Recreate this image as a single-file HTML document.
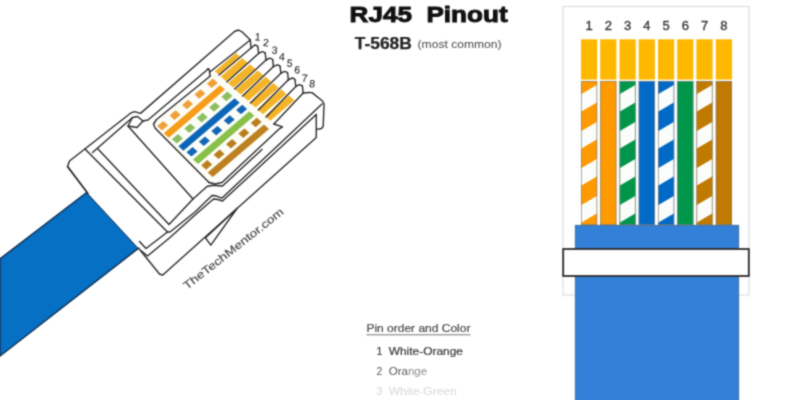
<!DOCTYPE html><html><head><meta charset="utf-8"><style>html,body{margin:0;padding:0;background:#fff;}svg{display:block;}#wrap{width:789px;height:400px;overflow:hidden;font-family:"Liberation Sans",sans-serif;}</style></head><body>
<div id="wrap">
<svg width="789" height="400" viewBox="0 0 789 400">
<defs><filter id="bl" color-interpolation-filters="sRGB" filterUnits="userSpaceOnUse" x="0" y="0" width="789" height="400"><feConvolveMatrix order="3" kernelMatrix="1 2 1 2 8 2 1 2 1" divisor="20" edgeMode="duplicate"/></filter></defs>
<rect width="789" height="400" fill="#fff"/>
<g filter="url(#bl)">
<polygon points="0,258.8 86.7,192.4 138.6,248.2 0,356" fill="#0670c4" stroke="#13355a" stroke-width="1.5"/>
<polygon points="87.0,192.4 67.0,165.0 131.0,113.0 140.0,113.4 236.0,30.0 250.3,40.0 304.0,96.0 309.0,92.5 322.5,101.5 324.0,104.0 323.0,128.0 316.5,137.5 162.0,275.0 138.4,248.0" fill="#fff"/>
<polygon points="150.7,125.6 213.8,71.7 276.0,124.5 208.3,185.0" fill="#fdfdf8"/>
<polygon points="214.7,71.2 236.0,53.0 239.8,56.4 218.6,74.6" fill="#f4b428"/>
<polygon points="220.6,76.5 242.3,57.9 247.6,62.7 226.0,81.2" fill="#f4b428"/>
<polygon points="228.0,83.1 250.1,64.2 255.4,69.0 233.4,87.8" fill="#f4b428"/>
<polygon points="235.4,89.7 257.8,70.5 263.2,75.2 240.8,94.4" fill="#f4b428"/>
<polygon points="242.8,96.3 265.6,76.8 271.0,81.5 248.2,101.0" fill="#f4b428"/>
<polygon points="250.2,102.9 273.4,83.0 278.7,87.8 255.6,107.6" fill="#f4b428"/>
<polygon points="257.6,109.5 281.2,89.3 286.5,94.1 263.0,114.2" fill="#f4b428"/>
<polygon points="265.0,116.1 289.0,95.6 294.3,100.3 270.4,120.8" fill="#f4b428"/>
<polygon points="157.2,126.1 163.3,120.9 168.2,125.3 162.1,130.5" fill="#f0a038"/>
<polygon points="169.6,115.5 175.7,110.3 180.6,114.7 174.5,119.9" fill="#f0a038"/>
<polygon points="182.0,105.0 188.1,99.8 193.0,104.1 186.9,109.3" fill="#f0a038"/>
<polygon points="194.4,94.4 200.5,89.2 205.4,93.5 199.3,98.7" fill="#f0a038"/>
<polygon points="206.8,83.8 212.9,78.6 217.8,82.9 211.7,88.1" fill="#f0a038"/>
<polygon points="163.7,133.3 220.0,85.2 225.0,89.6 168.8,137.7" fill="#f59c1a"/>
<polygon points="171.9,139.2 178.0,134.0 182.9,138.4 176.8,143.6" fill="#8cbf60"/>
<polygon points="184.3,128.6 190.4,123.4 195.2,127.8 189.2,133.0" fill="#8cbf60"/>
<polygon points="196.7,118.0 202.7,112.8 207.6,117.2 201.6,122.4" fill="#8cbf60"/>
<polygon points="209.1,107.4 215.1,102.2 220.0,106.6 213.9,111.8" fill="#8cbf60"/>
<polygon points="221.4,96.8 227.5,91.6 232.4,96.0 226.3,101.2" fill="#8cbf60"/>
<polygon points="178.4,146.3 234.6,98.2 239.7,102.7 183.4,150.8" fill="#0c66b8"/>
<polygon points="186.5,152.3 192.6,147.1 197.5,151.4 191.4,156.6" fill="#1266b8"/>
<polygon points="198.9,141.7 205.0,136.5 209.9,140.8 203.8,146.0" fill="#1266b8"/>
<polygon points="211.3,131.1 217.4,125.9 222.3,130.2 216.2,135.4" fill="#1266b8"/>
<polygon points="223.7,120.5 229.8,115.3 234.7,119.6 228.6,124.8" fill="#1266b8"/>
<polygon points="236.1,109.9 242.2,104.7 247.1,109.1 241.0,114.3" fill="#1266b8"/>
<polygon points="193.0,159.4 249.3,111.3 254.3,115.8 198.1,163.9" fill="#88c04a"/>
<polygon points="201.2,165.3 207.3,160.1 212.2,164.5 206.1,169.7" fill="#ba7e1c"/>
<polygon points="213.6,154.8 219.7,149.6 224.5,153.9 218.5,159.1" fill="#ba7e1c"/>
<polygon points="226.0,144.2 232.1,139.0 236.9,143.3 230.9,148.5" fill="#ba7e1c"/>
<polygon points="238.4,133.6 244.4,128.4 249.3,132.7 243.2,137.9" fill="#ba7e1c"/>
<polygon points="250.7,123.0 256.8,117.8 261.7,122.1 255.6,127.3" fill="#ba7e1c"/>
<polygon points="207.7,172.5 263.9,124.4 269.0,128.9 212.7,177.0" fill="#bc801e"/>
<polyline points="87.0,192.4 67.5,166.5 69.5,161.0 130.5,113.2 134.5,111.6 140.5,113.4 234.5,31.5 238.5,30.0 242.0,31.8 250.3,40.0" fill="none" stroke="#2b2b2b" stroke-width="1.4" stroke-linejoin="round" stroke-linecap="round"/>
<polyline points="250.3,40.0 251.1,48.0" fill="none" stroke="#2b2b2b" stroke-width="1.4" stroke-linejoin="round" stroke-linecap="round" stroke-width="1.9" stroke="#222"/>
<polyline points="251.1,48.0 254.8,45.0 256.9,45.7 257.8,46.6" fill="none" stroke="#2b2b2b" stroke-width="1.4" stroke-linejoin="round" stroke-linecap="round" stroke-width="1.9" stroke="#222"/>
<polyline points="257.8,46.6 258.6,53.4" fill="none" stroke="#2b2b2b" stroke-width="1.4" stroke-linejoin="round" stroke-linecap="round" stroke-width="1.9" stroke="#222"/>
<polyline points="258.6,53.4 262.2,51.6 264.4,52.3 265.2,53.2" fill="none" stroke="#2b2b2b" stroke-width="1.4" stroke-linejoin="round" stroke-linecap="round" stroke-width="1.9" stroke="#222"/>
<polyline points="265.2,53.2 266.0,60.0" fill="none" stroke="#2b2b2b" stroke-width="1.4" stroke-linejoin="round" stroke-linecap="round" stroke-width="1.9" stroke="#222"/>
<polyline points="266.0,60.0 269.7,58.2 271.9,58.9 272.7,59.8" fill="none" stroke="#2b2b2b" stroke-width="1.4" stroke-linejoin="round" stroke-linecap="round" stroke-width="1.9" stroke="#222"/>
<polyline points="272.7,59.8 273.5,66.6" fill="none" stroke="#2b2b2b" stroke-width="1.4" stroke-linejoin="round" stroke-linecap="round" stroke-width="1.9" stroke="#222"/>
<polyline points="273.5,66.6 277.1,64.8 279.3,65.5 280.1,66.4" fill="none" stroke="#2b2b2b" stroke-width="1.4" stroke-linejoin="round" stroke-linecap="round" stroke-width="1.9" stroke="#222"/>
<polyline points="280.1,66.4 280.9,73.2" fill="none" stroke="#2b2b2b" stroke-width="1.4" stroke-linejoin="round" stroke-linecap="round" stroke-width="1.9" stroke="#222"/>
<polyline points="280.9,73.2 284.6,71.4 286.8,72.1 287.6,73.0" fill="none" stroke="#2b2b2b" stroke-width="1.4" stroke-linejoin="round" stroke-linecap="round" stroke-width="1.9" stroke="#222"/>
<polyline points="287.6,73.0 288.4,79.8" fill="none" stroke="#2b2b2b" stroke-width="1.4" stroke-linejoin="round" stroke-linecap="round" stroke-width="1.9" stroke="#222"/>
<polyline points="288.4,79.8 292.0,78.0 294.2,78.7 295.0,79.6" fill="none" stroke="#2b2b2b" stroke-width="1.4" stroke-linejoin="round" stroke-linecap="round" stroke-width="1.9" stroke="#222"/>
<polyline points="295.0,79.6 295.8,86.4" fill="none" stroke="#2b2b2b" stroke-width="1.4" stroke-linejoin="round" stroke-linecap="round" stroke-width="1.9" stroke="#222"/>
<polyline points="295.8,86.4 299.4,84.6 301.6,85.3 302.4,86.2" fill="none" stroke="#2b2b2b" stroke-width="1.4" stroke-linejoin="round" stroke-linecap="round" stroke-width="1.9" stroke="#222"/>
<polyline points="302.4,86.2 303.2,93.0" fill="none" stroke="#2b2b2b" stroke-width="1.4" stroke-linejoin="round" stroke-linecap="round" stroke-width="1.9" stroke="#222"/>
<polyline points="219.0,75.0 251.1,48.0" fill="none" stroke="#2b2b2b" stroke-width="1.4" stroke-linejoin="round" stroke-linecap="round" stroke-width="2.1" stroke="#222"/>
<polyline points="226.8,82.0 258.6,53.4" fill="none" stroke="#2b2b2b" stroke-width="1.4" stroke-linejoin="round" stroke-linecap="round" stroke-width="2.1" stroke="#222"/>
<polyline points="234.7,89.0 266.0,60.0" fill="none" stroke="#2b2b2b" stroke-width="1.4" stroke-linejoin="round" stroke-linecap="round" stroke-width="2.1" stroke="#222"/>
<polyline points="242.5,96.0 273.5,66.6" fill="none" stroke="#2b2b2b" stroke-width="1.4" stroke-linejoin="round" stroke-linecap="round" stroke-width="2.1" stroke="#222"/>
<polyline points="250.4,103.0 280.9,73.2" fill="none" stroke="#2b2b2b" stroke-width="1.4" stroke-linejoin="round" stroke-linecap="round" stroke-width="2.1" stroke="#222"/>
<polyline points="258.2,110.0 288.4,79.8" fill="none" stroke="#2b2b2b" stroke-width="1.4" stroke-linejoin="round" stroke-linecap="round" stroke-width="2.1" stroke="#222"/>
<polyline points="266.1,117.0 295.8,86.4" fill="none" stroke="#2b2b2b" stroke-width="1.4" stroke-linejoin="round" stroke-linecap="round" stroke-width="2.1" stroke="#222"/>
<polyline points="273.9,124.0 303.2,93.0" fill="none" stroke="#2b2b2b" stroke-width="1.4" stroke-linejoin="round" stroke-linecap="round" stroke-width="2.1" stroke="#222"/>
<polyline points="250.3,40.0 209.8,72.0" fill="none" stroke="#2b2b2b" stroke-width="1.4" stroke-linejoin="round" stroke-linecap="round" stroke-width="1.6"/>
<polyline points="207.5,68.8 209.3,69.6 210.0,76.2" fill="none" stroke="#2b2b2b" stroke-width="1.4" stroke-linejoin="round" stroke-linecap="round" stroke-width="1.9"/>
<polyline points="303.2,93.0 309.2,92.5 312.0,92.6 322.5,101.0 324.0,104.0 323.2,126.5 321.5,128.5 316.5,129.4" fill="none" stroke="#2b2b2b" stroke-width="1.4" stroke-linejoin="round" stroke-linecap="round"/>
<polyline points="273.9,124.0 282.5,126.9 279.4,128.8 222.0,182.5 215.0,184.0 209.0,182.5" fill="none" stroke="#2b2b2b" stroke-width="1.4" stroke-linejoin="round" stroke-linecap="round" stroke-width="2.6" stroke="#262626"/>
<polyline points="210.0,76.2 156.5,119.5 153.5,124.0 155.0,128.0 209.0,182.5" fill="none" stroke="#2b2b2b" stroke-width="1.4" stroke-linejoin="round" stroke-linecap="round" stroke-width="1.7"/>
<polyline points="208.5,68.8 148.0,120.0 143.0,121.0 137.5,116.5 132.5,117.5 92.5,152.5" fill="none" stroke="#2b2b2b" stroke-width="1.4" stroke-linejoin="round" stroke-linecap="round"/>
<polyline points="132.5,117.5 128.0,126.0 137.0,127.5 143.0,121.0" fill="none" stroke="#2b2b2b" stroke-width="1.4" stroke-linejoin="round" stroke-linecap="round"/>
<polyline points="128.0,126.0 193.0,199.0" fill="none" stroke="#2b2b2b" stroke-width="1.4" stroke-linejoin="round" stroke-linecap="round"/>
<polyline points="85.0,149.0 165.0,229.5 167.5,232.0 170.0,232.0 195.0,212.0 212.0,195.5 216.0,195.8 221.8,198.2 322.0,104.0" fill="none" stroke="#2b2b2b" stroke-width="1.4" stroke-linejoin="round" stroke-linecap="round"/>
<polyline points="139.5,241.5 146.0,248.5 167.5,232.0" fill="none" stroke="#2b2b2b" stroke-width="1.4" stroke-linejoin="round" stroke-linecap="round"/>
<polyline points="98.0,149.0 169.0,224.5 193.0,199.0 207.0,186.5 213.0,185.2 222.5,186.0 262.0,149.5" fill="none" stroke="#2b2b2b" stroke-width="1.4" stroke-linejoin="round" stroke-linecap="round"/>
<polyline points="141.5,251.0 147.5,256.0 170.0,237.5 195.0,215.0 213.5,199.0 218.0,199.5 222.5,201.0 316.3,114.4" fill="none" stroke="#2b2b2b" stroke-width="1.4" stroke-linejoin="round" stroke-linecap="round"/>
<polyline points="316.3,114.4 316.3,137.5 162.5,275.2 159.5,274.0 138.4,248.0" fill="none" stroke="#2b2b2b" stroke-width="1.4" stroke-linejoin="round" stroke-linecap="round" stroke-width="1.6"/>
<polyline points="88.0,193.5 67.5,166.5" fill="none" stroke="#2b2b2b" stroke-width="1.4" stroke-linejoin="round" stroke-linecap="round" stroke-width="2.0"/>
<polyline points="237.0,208.5 205.5,237.8 210.8,245.2 237.0,208.5" fill="none" stroke="#2b2b2b" stroke-width="1.4" stroke-linejoin="round" stroke-linecap="round"/>
<text x="257.8" y="40.5" font-size="10.4" text-anchor="middle" fill="#2a2a2a" stroke="#2a2a2a" stroke-width="0.15" transform="rotate(5 257.8 36.2)">1</text>
<text x="266.0" y="46.3" font-size="10.4" text-anchor="middle" fill="#2a2a2a" stroke="#2a2a2a" stroke-width="0.15" transform="rotate(5 266.0 42.0)">2</text>
<text x="274.7" y="53.7" font-size="10.4" text-anchor="middle" fill="#2a2a2a" stroke="#2a2a2a" stroke-width="0.15" transform="rotate(5 274.7 49.4)">3</text>
<text x="282.0" y="60.3" font-size="10.4" text-anchor="middle" fill="#2a2a2a" stroke="#2a2a2a" stroke-width="0.15" transform="rotate(5 282.0 56.0)">4</text>
<text x="289.7" y="66.8" font-size="10.4" text-anchor="middle" fill="#2a2a2a" stroke="#2a2a2a" stroke-width="0.15" transform="rotate(5 289.7 62.5)">5</text>
<text x="297.2" y="73.3" font-size="10.4" text-anchor="middle" fill="#2a2a2a" stroke="#2a2a2a" stroke-width="0.15" transform="rotate(5 297.2 69.0)">6</text>
<text x="304.7" y="81.8" font-size="10.4" text-anchor="middle" fill="#2a2a2a" stroke="#2a2a2a" stroke-width="0.15" transform="rotate(5 304.7 77.5)">7</text>
<text x="312.2" y="87.3" font-size="10.4" text-anchor="middle" fill="#2a2a2a" stroke="#2a2a2a" stroke-width="0.15" transform="rotate(5 312.2 83.0)">8</text>
<text x="0" y="0" font-size="11" fill="#444" stroke="#444" stroke-width="0.12" textLength="124" lengthAdjust="spacingAndGlyphs" transform="translate(187 290) rotate(-38.2)">TheTechMentor.com</text>
<rect x="563" y="6.5" width="186" height="288.5" fill="#fff" stroke="#dcdcdc" stroke-width="1.2"/>
<text x="589.1" y="29.9" font-size="13" text-anchor="middle" fill="#3a3a3a" stroke="#3a3a3a" stroke-width="0.35">1</text>
<rect x="581" y="39.3" width="16.2" height="40.3" fill="#ffb800"/>
<text x="608.3" y="29.9" font-size="13" text-anchor="middle" fill="#3a3a3a" stroke="#3a3a3a" stroke-width="0.35">2</text>
<rect x="600.2" y="39.3" width="16.2" height="40.3" fill="#ffb800"/>
<text x="627.6" y="29.9" font-size="13" text-anchor="middle" fill="#3a3a3a" stroke="#3a3a3a" stroke-width="0.35">3</text>
<rect x="619.5" y="39.3" width="16.2" height="40.3" fill="#ffb800"/>
<text x="646.8" y="29.9" font-size="13" text-anchor="middle" fill="#3a3a3a" stroke="#3a3a3a" stroke-width="0.35">4</text>
<rect x="638.7" y="39.3" width="16.2" height="40.3" fill="#ffb800"/>
<text x="666.1" y="29.9" font-size="13" text-anchor="middle" fill="#3a3a3a" stroke="#3a3a3a" stroke-width="0.35">5</text>
<rect x="658" y="39.3" width="16.2" height="40.3" fill="#ffb800"/>
<text x="685.3" y="29.9" font-size="13" text-anchor="middle" fill="#3a3a3a" stroke="#3a3a3a" stroke-width="0.35">6</text>
<rect x="677.2" y="39.3" width="16.2" height="40.3" fill="#ffb800"/>
<text x="704.5" y="29.9" font-size="13" text-anchor="middle" fill="#3a3a3a" stroke="#3a3a3a" stroke-width="0.35">7</text>
<rect x="696.4" y="39.3" width="16.2" height="40.3" fill="#ffb800"/>
<text x="723.9" y="29.9" font-size="13" text-anchor="middle" fill="#3a3a3a" stroke="#3a3a3a" stroke-width="0.35">8</text>
<rect x="715.8" y="39.3" width="16.2" height="40.3" fill="#ffb800"/>
<defs>
<clipPath id="w0"><rect x="581" y="81" width="16.2" height="144"/></clipPath>
<clipPath id="w1"><rect x="600.2" y="81" width="16.2" height="144"/></clipPath>
<clipPath id="w2"><rect x="619.5" y="81" width="16.2" height="144"/></clipPath>
<clipPath id="w3"><rect x="638.7" y="81" width="16.2" height="144"/></clipPath>
<clipPath id="w4"><rect x="658" y="81" width="16.2" height="144"/></clipPath>
<clipPath id="w5"><rect x="677.2" y="81" width="16.2" height="144"/></clipPath>
<clipPath id="w6"><rect x="696.4" y="81" width="16.2" height="144"/></clipPath>
<clipPath id="w7"><rect x="715.8" y="81" width="16.2" height="144"/></clipPath>
</defs>
<rect x="581" y="81" width="16.2" height="144" fill="#ff9a00"/>
<g clip-path="url(#w0)">
<polygon points="581.0,57.3 597.2,47.8 597.2,65.3 581.0,74.8" fill="#fbfdfb"/>
<polygon points="581.0,94.3 597.2,84.8 597.2,102.3 581.0,111.8" fill="#fbfdfb"/>
<polygon points="581.0,131.3 597.2,121.8 597.2,139.3 581.0,148.8" fill="#fbfdfb"/>
<polygon points="581.0,168.3 597.2,158.8 597.2,176.3 581.0,185.8" fill="#fbfdfb"/>
<polygon points="581.0,205.3 597.2,195.8 597.2,213.3 581.0,222.8" fill="#fbfdfb"/>
<polygon points="581.0,242.3 597.2,232.8 597.2,250.3 581.0,259.8" fill="#fbfdfb"/>
<polygon points="581.0,279.3 597.2,269.8 597.2,287.3 581.0,296.8" fill="#fbfdfb"/>
</g>
<rect x="581.4" y="81.4" width="15.399999999999999" height="143.2" fill="none" stroke="#808080" stroke-opacity="0.75" stroke-width="0.9"/>
<rect x="600.2" y="81" width="16.2" height="144" fill="#ff9a00"/>
<rect x="600.6" y="81.4" width="15.399999999999999" height="143.2" fill="none" stroke="#808080" stroke-opacity="0.75" stroke-width="0.9"/>
<rect x="619.5" y="81" width="16.2" height="144" fill="#00964a"/>
<g clip-path="url(#w2)">
<polygon points="619.5,57.3 635.7,47.8 635.7,65.3 619.5,74.8" fill="#fbfdfb"/>
<polygon points="619.5,94.3 635.7,84.8 635.7,102.3 619.5,111.8" fill="#fbfdfb"/>
<polygon points="619.5,131.3 635.7,121.8 635.7,139.3 619.5,148.8" fill="#fbfdfb"/>
<polygon points="619.5,168.3 635.7,158.8 635.7,176.3 619.5,185.8" fill="#fbfdfb"/>
<polygon points="619.5,205.3 635.7,195.8 635.7,213.3 619.5,222.8" fill="#fbfdfb"/>
<polygon points="619.5,242.3 635.7,232.8 635.7,250.3 619.5,259.8" fill="#fbfdfb"/>
<polygon points="619.5,279.3 635.7,269.8 635.7,287.3 619.5,296.8" fill="#fbfdfb"/>
</g>
<rect x="619.9" y="81.4" width="15.399999999999999" height="143.2" fill="none" stroke="#808080" stroke-opacity="0.75" stroke-width="0.9"/>
<rect x="638.7" y="81" width="16.2" height="144" fill="#006ac6"/>
<rect x="639.1" y="81.4" width="15.399999999999999" height="143.2" fill="none" stroke="#808080" stroke-opacity="0.75" stroke-width="0.9"/>
<rect x="658" y="81" width="16.2" height="144" fill="#006ac6"/>
<g clip-path="url(#w4)">
<polygon points="658.0,57.3 674.2,47.8 674.2,65.3 658.0,74.8" fill="#fbfdfb"/>
<polygon points="658.0,94.3 674.2,84.8 674.2,102.3 658.0,111.8" fill="#fbfdfb"/>
<polygon points="658.0,131.3 674.2,121.8 674.2,139.3 658.0,148.8" fill="#fbfdfb"/>
<polygon points="658.0,168.3 674.2,158.8 674.2,176.3 658.0,185.8" fill="#fbfdfb"/>
<polygon points="658.0,205.3 674.2,195.8 674.2,213.3 658.0,222.8" fill="#fbfdfb"/>
<polygon points="658.0,242.3 674.2,232.8 674.2,250.3 658.0,259.8" fill="#fbfdfb"/>
<polygon points="658.0,279.3 674.2,269.8 674.2,287.3 658.0,296.8" fill="#fbfdfb"/>
</g>
<rect x="658.4" y="81.4" width="15.399999999999999" height="143.2" fill="none" stroke="#808080" stroke-opacity="0.75" stroke-width="0.9"/>
<rect x="677.2" y="81" width="16.2" height="144" fill="#00964a"/>
<rect x="677.6" y="81.4" width="15.399999999999999" height="143.2" fill="none" stroke="#808080" stroke-opacity="0.75" stroke-width="0.9"/>
<rect x="696.4" y="81" width="16.2" height="144" fill="#c07a00"/>
<g clip-path="url(#w6)">
<polygon points="696.4,57.3 712.6,47.8 712.6,65.3 696.4,74.8" fill="#fbfdfb"/>
<polygon points="696.4,94.3 712.6,84.8 712.6,102.3 696.4,111.8" fill="#fbfdfb"/>
<polygon points="696.4,131.3 712.6,121.8 712.6,139.3 696.4,148.8" fill="#fbfdfb"/>
<polygon points="696.4,168.3 712.6,158.8 712.6,176.3 696.4,185.8" fill="#fbfdfb"/>
<polygon points="696.4,205.3 712.6,195.8 712.6,213.3 696.4,222.8" fill="#fbfdfb"/>
<polygon points="696.4,242.3 712.6,232.8 712.6,250.3 696.4,259.8" fill="#fbfdfb"/>
<polygon points="696.4,279.3 712.6,269.8 712.6,287.3 696.4,296.8" fill="#fbfdfb"/>
</g>
<rect x="696.8" y="81.4" width="15.399999999999999" height="143.2" fill="none" stroke="#808080" stroke-opacity="0.75" stroke-width="0.9"/>
<rect x="715.8" y="81" width="16.2" height="144" fill="#c07a00"/>
<rect x="716.1999999999999" y="81.4" width="15.399999999999999" height="143.2" fill="none" stroke="#808080" stroke-opacity="0.75" stroke-width="0.9"/>
<rect x="575.4" y="225.4" width="163.2" height="176" fill="#3280d8" stroke="#4a74a0" stroke-width="1.1"/>
<rect x="563.2" y="249" width="185.6" height="27" fill="#fff" stroke="#2c2c2c" stroke-width="1.8"/>
<text x="349.6" y="22.4" font-size="21.8" font-weight="bold" fill="#111" stroke="#111" stroke-width="0.9" textLength="158" lengthAdjust="spacingAndGlyphs">RJ45&#160;&#160;Pinout</text>
<text x="354.8" y="48.8" font-size="17" font-weight="bold" fill="#222" stroke="#222" stroke-width="0.25" textLength="57" lengthAdjust="spacingAndGlyphs">T-568B</text>
<text x="417.6" y="48.3" font-size="11.2" fill="#484848" textLength="84" lengthAdjust="spacingAndGlyphs">(most common)</text>
<text x="366.4" y="332" font-size="10.5" fill="#4a4a4a" stroke="#4a4a4a" stroke-width="0.2" textLength="104" lengthAdjust="spacingAndGlyphs">Pin order and Color</text>
<line x1="366.4" y1="334.8" x2="470.4" y2="334.8" stroke="#666" stroke-width="0.9"/>
<text x="376.6" y="355.4" font-size="10.5" fill="#3a3a3a" stroke="#3a3a3a" stroke-width="0.2">1</text>
<text x="388.7" y="355.4" font-size="10.5" fill="#3a3a3a" stroke="#3a3a3a" stroke-width="0.2" textLength="74.3" lengthAdjust="spacingAndGlyphs">White-Orange</text>
<text x="376.6" y="374.5" font-size="10.5" fill="#555">2</text>
<text x="388.7" y="374.5" font-size="10.5" fill="#555" textLength="38.5" lengthAdjust="spacingAndGlyphs">Ora<tspan fill="#8a8a8a">nge</tspan></text>
<text x="376.6" y="394.6" font-size="10.5" fill="#d4d4d4">3</text>
<text x="388.7" y="394.6" font-size="10.5" fill="#d8d8d8" textLength="68" lengthAdjust="spacingAndGlyphs">White-Green</text>
</g>
</svg></div></body></html>
